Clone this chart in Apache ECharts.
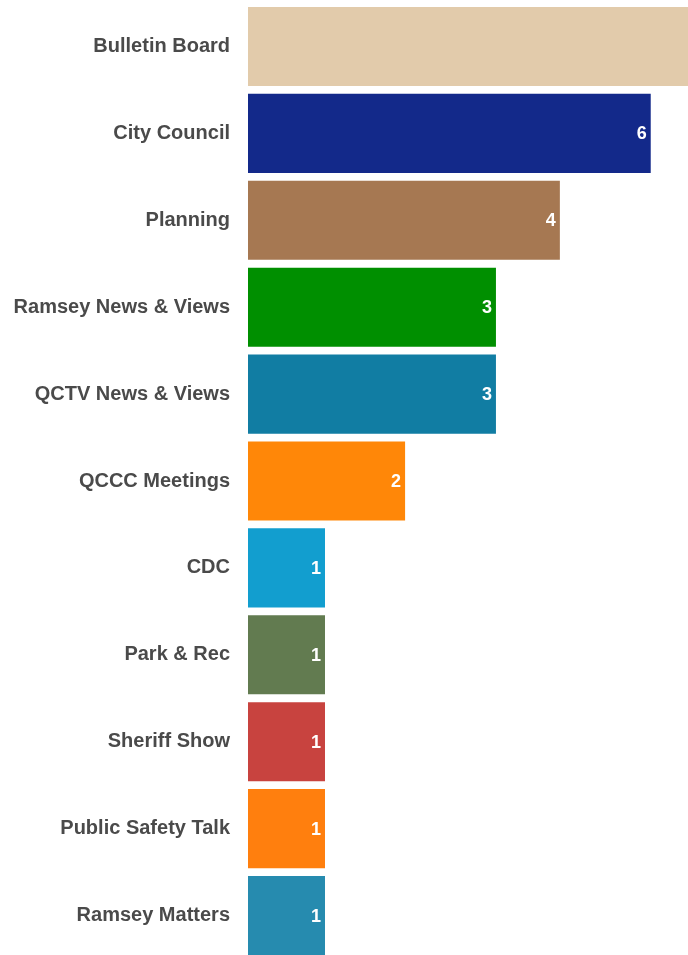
<!DOCTYPE html>
<html>
<head>
<meta charset="utf-8">
<script src="https://cdn.jsdelivr.net/npm/echarts@6/dist/echarts.min.js"></script>
<style>
html,body{margin:0;padding:0;background:#fff;overflow:hidden;width:688px;height:955px;}
#chart{width:688px;height:959px;}
</style>
</head>
<body>
<div id="chart"></div>
<script>
// Categories, top to bottom
const categories = ["Bulletin Board","City Council","Planning","Ramsey News & Views","QCTV News & Views","QCCC Meetings","CDC","Park & Rec","Sheriff Show","Public Safety Talk","Ramsey Matters"];
// Labels shown on the bars (counts)
const counts = [null, 6, 4, 3, 3, 2, 1, 1, 1, 1, 1];
// Bar lengths (in units where the "1" bars = 1)
const barLengths = [7.5, 5.23, 4.05, 3.22, 3.22, 2.04, 1, 1, 1, 1, 1];
const barColors = ["#E2CBAB","#13298A","#A67852","#008F00","#117DA3","#FF8708","#129ECF","#627B50","#C8433F","#FF7F0E","#268BAF"];
const axisMax = 5.714;

const chart = echarts.init(document.getElementById('chart'), null, {renderer:'canvas'});
chart.setOption({
  animation:false,
  backgroundColor:'#ffffff',
  grid:{left:248,right:0,top:3,bottom:0,containLabel:false},
  xAxis:{type:'value',min:0,max:axisMax,show:false,splitLine:{show:false}},
  yAxis:{
    type:'category',
    data:categories,
    inverse:true,
    axisLine:{show:false},
    axisTick:{show:false},
    axisLabel:{
      margin:18,
      color:'#4a4a4a',
      fontFamily:'Liberation Sans, Arial, sans-serif',
      fontWeight:'bold',
      fontSize:20
    }
  },
  series:[{
    type:'bar',
    barCategoryGap:'9%',
    clip:true,
    data:barLengths.map((v,i)=>({
      value:v,
      itemStyle:{color:barColors[i]},
      label:{show:counts[i]!==null}
    })),
    label:{
      show:true,
      position:'insideRight',
      distance:4,
      offset:[0,1],
      color:'#ffffff',
      fontFamily:'Liberation Sans, Arial, sans-serif',
      fontWeight:'bold',
      fontSize:18,
      formatter:(p)=> counts[p.dataIndex]===null ? '' : String(counts[p.dataIndex])
    }
  }]
});
</script>
</body>
</html>
